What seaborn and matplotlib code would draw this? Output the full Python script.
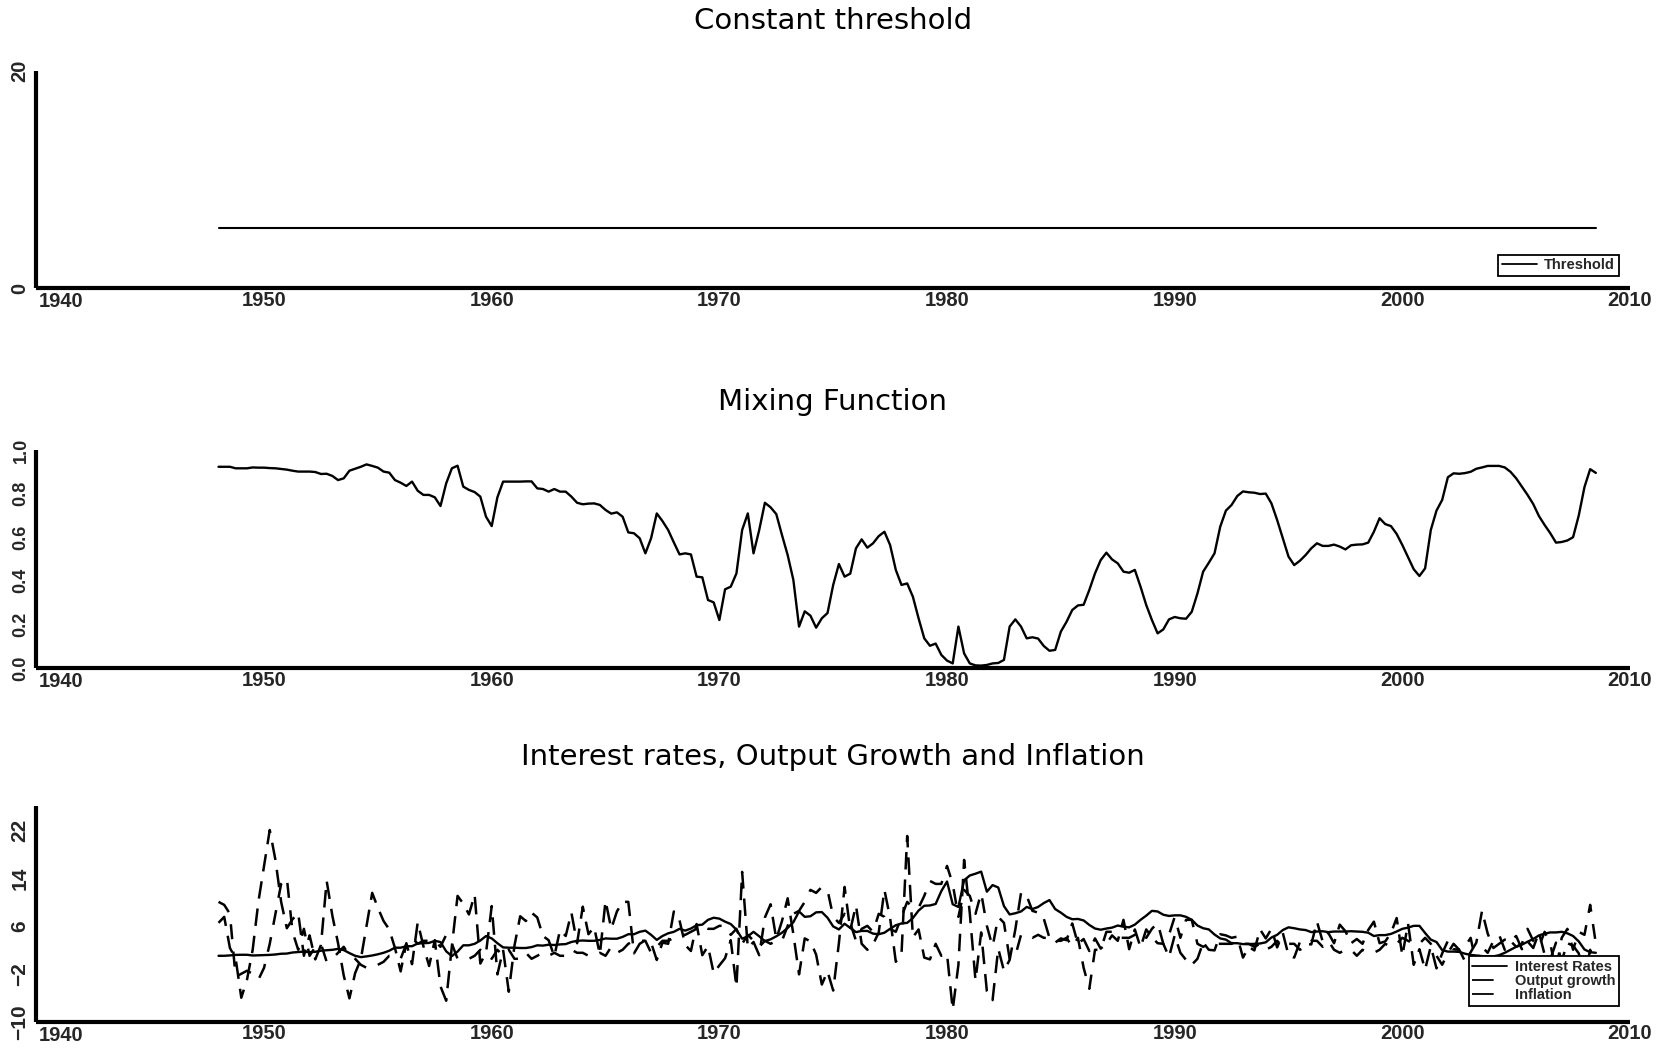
import numpy as np
import pandas as pd
import matplotlib
matplotlib.use("Agg")
import matplotlib.pyplot as plt
from matplotlib.lines import Line2D
from matplotlib.ticker import MultipleLocator, FixedLocator, FuncFormatter
import seaborn as sns

# ---------------------------------------------------------------------------
# Quarterly data, 1948Q1 - 2008Q3
# ---------------------------------------------------------------------------
start_year = 1948.0
threshold_level = 5.5

mixing = [
    0.923, 0.923, 0.923, 0.916,  # 1948
    0.916, 0.916, 0.920, 0.919,  # 1949
    0.919, 0.917, 0.916, 0.913,  # 1950
    0.910, 0.905, 0.901, 0.901,  # 1951
    0.901, 0.899, 0.890, 0.891,  # 1952
    0.881, 0.862, 0.870, 0.905,  # 1953
    0.914, 0.923, 0.934, 0.927,  # 1954
    0.919, 0.901, 0.896, 0.862,  # 1955
    0.850, 0.835, 0.855, 0.813,  # 1956
    0.794, 0.794, 0.783, 0.743,  # 1957
    0.847, 0.916, 0.928, 0.832,  # 1958
    0.817, 0.807, 0.786, 0.694,  # 1959
    0.651, 0.783, 0.855, 0.855,  # 1960
    0.855, 0.855, 0.856, 0.856,  # 1961
    0.824, 0.821, 0.809, 0.821,  # 1962
    0.809, 0.809, 0.786, 0.758,  # 1963
    0.751, 0.754, 0.755, 0.748,  # 1964
    0.725, 0.708, 0.714, 0.694,  # 1965
    0.622, 0.618, 0.595, 0.526,  # 1966
    0.595, 0.709, 0.674, 0.633,  # 1967
    0.576, 0.521, 0.526, 0.521,  # 1968
    0.419, 0.416, 0.312, 0.301,  # 1969
    0.220, 0.361, 0.373, 0.434,  # 1970
    0.633, 0.709, 0.526, 0.633,  # 1971
    0.758, 0.737, 0.706, 0.610,  # 1972
    0.518, 0.404, 0.190, 0.260,  # 1973
    0.240, 0.185, 0.228, 0.252,  # 1974
    0.381, 0.477, 0.419, 0.433,  # 1975
    0.549, 0.590, 0.552, 0.572,  # 1976
    0.605, 0.625, 0.564, 0.450,  # 1977
    0.381, 0.388, 0.327, 0.228,  # 1978
    0.136, 0.102, 0.112, 0.060,  # 1979
    0.034, 0.021, 0.190, 0.067,  # 1980
    0.021, 0.012, 0.011, 0.014,  # 1981
    0.021, 0.023, 0.037, 0.190,  # 1982
    0.223, 0.190, 0.136, 0.141,  # 1983
    0.135, 0.101, 0.079, 0.083,  # 1984
    0.167, 0.212, 0.266, 0.287,  # 1985
    0.290, 0.358, 0.434, 0.495,  # 1986
    0.529, 0.498, 0.480, 0.442,  # 1987
    0.437, 0.450, 0.373, 0.289,  # 1988
    0.220, 0.159, 0.177, 0.223,  # 1989
    0.234, 0.228, 0.226, 0.258,  # 1990
    0.342, 0.442, 0.483, 0.526,  # 1991
    0.648, 0.722, 0.748, 0.789,  # 1992
    0.810, 0.806, 0.804, 0.798,  # 1993
    0.800, 0.755, 0.679, 0.595,  # 1994
    0.511, 0.472, 0.492, 0.518,  # 1995
    0.549, 0.572, 0.560, 0.560,  # 1996
    0.566, 0.557, 0.544, 0.563,  # 1997
    0.566, 0.567, 0.575, 0.625,  # 1998
    0.687, 0.660, 0.651, 0.615,  # 1999
    0.564, 0.508, 0.453, 0.422,  # 2000
    0.457, 0.633, 0.722, 0.771,  # 2001
    0.875, 0.893, 0.891, 0.894,  # 2002
    0.900, 0.914, 0.920, 0.927,  # 2003
    0.927, 0.927, 0.920, 0.900,  # 2004
    0.870, 0.832, 0.794, 0.752,  # 2005
    0.697, 0.656, 0.618, 0.575,  # 2006
    0.578, 0.585, 0.600, 0.700,  # 2007
    0.830, 0.912, 0.895,         # 2008
]

interest_rates = [
    1.00, 1.00, 1.06, 1.15,  # 1948
    1.17, 1.17, 1.05, 1.08,  # 1949
    1.11, 1.15, 1.22, 1.34,  # 1950
    1.37, 1.55, 1.63, 1.70,  # 1951
    1.60, 1.67, 1.85, 1.93,  # 1952
    2.00, 2.15, 1.95, 1.45,  # 1953
    1.00, 0.78, 0.90, 1.05,  # 1954
    1.25, 1.50, 1.85, 2.35,  # 1955
    2.35, 2.60, 2.60, 3.05,  # 1956
    3.10, 3.15, 3.50, 3.30,  # 1957
    1.75, 0.95, 1.70, 2.75,  # 1958
    2.75, 3.00, 3.55, 4.30,  # 1959
    3.90, 3.10, 2.40, 2.35,  # 1960
    2.35, 2.30, 2.30, 2.45,  # 1961
    2.75, 2.70, 2.85, 2.80,  # 1962
    2.90, 2.95, 3.30, 3.50,  # 1963
    3.55, 3.50, 3.50, 3.65,  # 1964
    3.90, 3.85, 3.85, 4.15,  # 1965
    4.60, 4.60, 5.00, 5.20,  # 1966
    4.50, 3.65, 4.30, 4.75,  # 1967
    5.00, 5.50, 5.20, 5.55,  # 1968
    6.10, 6.20, 7.00, 7.35,  # 1969
    7.20, 6.70, 6.30, 5.35,  # 1970
    3.85, 4.25, 5.00, 4.25,  # 1971
    3.45, 3.75, 4.25, 4.85,  # 1972
    5.65, 6.60, 8.40, 7.50,  # 1973
    7.60, 8.25, 8.30, 7.35,  # 1974
    5.90, 5.40, 6.35, 5.65,  # 1975
    4.95, 5.15, 5.15, 4.70,  # 1976
    4.60, 4.85, 5.50, 6.10,  # 1977
    6.40, 6.50, 7.30, 8.55,  # 1978
    9.35, 9.40, 9.65, 11.80,  # 1979
    13.40, 9.60, 9.15, 13.60,  # 1980
    14.40, 14.70, 15.05, 11.70,  # 1981
    12.80, 12.40, 9.30, 7.90,  # 1982
    8.10, 8.40, 9.15, 8.80,  # 1983
    9.15, 9.80, 10.30, 8.80,  # 1984
    8.20, 7.50, 7.10, 7.15,  # 1985
    6.90, 6.15, 5.55, 5.35,  # 1986
    5.55, 5.70, 6.05, 5.85,  # 1987
    5.75, 6.20, 7.00, 7.70,  # 1988
    8.50, 8.40, 7.85, 7.65,  # 1989
    7.75, 7.75, 7.50, 7.00,  # 1990
    6.05, 5.60, 5.40, 4.55,  # 1991
    3.90, 3.70, 3.10, 3.10,  # 1992
    2.95, 2.95, 3.00, 3.05,  # 1993
    3.25, 4.05, 4.50, 5.30,  # 1994
    5.75, 5.60, 5.40, 5.30,  # 1995
    4.95, 5.05, 5.10, 4.95,  # 1996
    5.05, 5.05, 5.05, 5.10,  # 1997
    5.05, 5.00, 4.85, 4.30,  # 1998
    4.45, 4.45, 4.65, 5.05,  # 1999
    5.50, 5.70, 6.00, 6.00,  # 2000
    4.80, 3.70, 3.30, 1.95,  # 2001
    1.70, 1.70, 1.65, 1.35,  # 2002
    1.15, 1.05, 0.95, 0.90,  # 2003
    0.90, 1.10, 1.50, 2.00,  # 2004
    2.50, 2.85, 3.35, 3.80,  # 2005
    4.40, 4.70, 4.90, 4.90,  # 2006
    5.00, 4.75, 4.30, 3.40,  # 2007
    2.05, 1.60, 1.50,        # 2008
]

output_growth = [
    6.5, 7.5, 2.3, 0.6,    # 1948
    -6.0, -3.0, 2.0, 10.0,  # 1949
    16.0, 22.0, 17.0, 10.0,  # 1950
    5.6, 7.1, 8.1, 1.0,    # 1951
    4.4, 0.4, 2.8, 13.5,   # 1952
    7.7, 3.1, -2.3, -6.1,  # 1953
    -1.9, 0.4, 6.0, 11.5,  # 1954
    9.0, 6.8, 5.4, 2.3,    # 1955
    -1.6, 3.1, -0.4, 6.6,  # 1956
    2.6, -0.7, 3.6, -4.1,  # 1957
    -6.5, 2.6, 11.0, 9.7,  # 1958
    7.9, 11.2, -0.3, 1.5,  # 1959
    9.3, -2.1, 2.0, -5.0,  # 1960
    2.7, 7.6, 6.8, 8.2,    # 1961
    7.4, 4.3, 3.6, 0.9,    # 1962
    5.3, 4.3, 8.2, 3.1,    # 1963
    9.2, 4.6, 5.8, 1.2,    # 1964
    10.2, 5.5, 8.4, 10.0,  # 1965
    10.0, 1.4, 3.0, 3.6,   # 1966
    3.2, 0.3, 3.2, 3.0,    # 1967
    8.4, 6.9, 2.8, 1.8,    # 1968
    6.3, 1.1, 2.6, -1.9,   # 1969
    -0.6, 0.6, 3.6, -4.2,  # 1970
    15.0, 2.3, 3.3, 1.1,   # 1971
    7.4, 9.6, 3.8, 6.8,    # 1972
    10.6, 4.6, -2.1, 3.9,  # 1973
    3.4, 1.2, -3.8, -1.6,  # 1974
    -4.8, 3.1, 12.5, 5.3,  # 1975
    9.4, 3.0, 2.0, 2.9,    # 1976
    4.9, 12.0, 7.3, 0.0,   # 1977
    1.3, 21.0, 4.1, 5.4,   # 1978
    0.7, 0.4, 3.0, 1.0,    # 1979
    1.3, -8.0, -0.5, 17.0,  # 1980
    8.1, -3.1, 4.9, -4.9,  # 1981
    -6.4, 2.2, -1.5, 0.3,  # 1982
    5.4, 11.5, 11.0, 8.5,  # 1983
    8.2, 7.2, 4.0, 3.2,    # 1984
    3.9, 3.6, 6.4, 3.0,    # 1985
    3.8, 1.8, 3.9, 2.2,    # 1986
    3.0, 4.4, 3.5, 7.0,    # 1987
    2.1, 5.4, 2.4, 5.4,    # 1988
    4.1, 3.1, 3.0, 0.8,    # 1989
    4.4, 1.5, 0.3, -0.5,   # 1990
    0.5, 3.2, 2.0, 1.9,    # 1991
    4.6, 4.4, 4.0, 4.2,    # 1992
    0.7, 2.5, 1.9, 5.4,    # 1993
    3.9, 5.5, 2.4, 4.8,    # 1994
    1.1, 0.7, 3.3, 3.0,    # 1995
    2.9, 6.7, 3.4, 4.8,    # 1996
    3.1, 6.2, 5.1, 3.1,    # 1997
    3.8, 3.0, 5.3, 6.7,    # 1998
    3.1, 3.4, 4.8, 7.3,    # 1999
    1.0, 6.4, -0.5, 2.1,   # 2000
    -1.3, 2.6, -1.1, 1.4,  # 2001
    3.5, 2.1, 2.0, 0.1,    # 2002
    1.6, 3.2, 8.5, 4.7,    # 2003
    2.3, 3.0, 3.7, 3.5,    # 2004
    4.3, 2.1, 3.4, 2.3,    # 2005
    4.9, 1.2, 0.4, 3.2,    # 2006
    0.2, 3.1, 2.7, 1.4,    # 2007
    -2.7, 2.0, -1.9,       # 2008
]

inflation = [
    10.0, 9.5, 8.0, -2.5,  # 1948
    -2.0, -1.5, -2.0, -3.0,  # 1949
    -1.0, 3.0, 8.0, 13.0,  # 1950
    14.0, 5.0, 2.0, 5.5,   # 1951
    1.0, 2.5, 3.0, 0.0,    # 1952
    0.5, 1.5, 2.5, 1.0,    # 1953
    0.5, -0.5, -1.0, -1.0,  # 1954
    -0.5, 0.0, 1.0, 1.0,   # 1955
    0.5, 3.0, 4.0, 3.0,    # 1956
    3.5, 3.5, 3.5, 2.5,    # 1957
    4.5, 3.0, 0.5, 0.5,    # 1958
    0.5, 1.0, 2.0, 1.5,    # 1959
    0.5, 2.0, 1.0, 2.0,    # 1960
    0.5, 0.5, 1.5, 0.5,    # 1961
    1.0, 1.5, 1.0, 1.5,    # 1962
    1.0, 1.0, 2.0, 1.5,    # 1963
    1.5, 1.0, 1.0, 1.5,    # 1964
    1.0, 2.5, 1.5, 2.0,    # 1965
    3.0, 3.5, 3.5, 3.5,    # 1966
    1.5, 2.5, 3.5, 3.5,    # 1967
    4.0, 4.5, 4.5, 5.0,    # 1968
    5.5, 6.0, 5.5, 5.5,    # 1969
    6.0, 6.0, 4.5, 5.5,    # 1970
    3.0, 4.5, 3.5, 2.5,    # 1971
    3.5, 3.0, 3.5, 3.5,    # 1972
    6.0, 8.0, 8.5, 10.0,   # 1973
    12.0, 11.5, 12.5, 12.0,  # 1974
    7.5, 6.5, 8.0, 6.5,    # 1975
    3.5, 5.5, 6.0, 5.0,    # 1976
    8.0, 7.5, 5.5, 5.0,    # 1977
    7.5, 10.0, 9.0, 9.0,   # 1978
    11.0, 13.5, 13.0, 13.0,  # 1979
    16.0, 13.0, 7.5, 12.0,  # 1980
    11.0, 8.0, 11.5, 6.0,  # 1981
    2.5, 7.5, 6.5, 0.5,    # 1982
    1.0, 4.5, 4.5, 4.0,    # 1983
    4.5, 4.0, 4.0, 3.5,    # 1984
    3.5, 4.0, 2.5, 4.0,    # 1985
    -1.0, -4.5, 2.0, 2.0,  # 1986
    5.0, 5.0, 4.0, 4.0,    # 1987
    4.0, 4.5, 5.0, 4.0,    # 1988
    5.5, 6.5, 3.0, 4.5,    # 1989
    7.5, 4.0, 7.0, 7.0,    # 1990
    3.0, 2.5, 3.0, 3.0,    # 1991
    3.0, 3.0, 3.0, 3.5,    # 1992
    3.0, 3.0, 2.5, 3.0,    # 1993
    2.0, 2.5, 3.5, 2.5,    # 1994
    3.0, 3.0, 2.0, 2.5,    # 1995
    3.5, 3.5, 2.5, 3.5,    # 1996
    2.0, 1.5, 2.0, 2.0,    # 1997
    1.0, 2.0, 1.5, 1.5,    # 1998
    2.0, 3.0, 2.5, 3.0,    # 1999
    4.0, 3.5, 3.0, 3.0,    # 2000
    4.0, 3.0, 1.0, -0.5,   # 2001
    1.5, 3.0, 2.0, 2.5,    # 2002
    4.0, -0.5, 2.5, 1.5,   # 2003
    3.5, 4.5, 2.0, 3.5,    # 2004
    2.5, 3.0, 5.5, 3.5,    # 2005
    2.5, 5.0, 3.0, -1.5,   # 2006
    4.0, 5.5, 2.0, 5.0,    # 2007
    4.5, 9.5, 3.0,         # 2008
]

year_ticks = [1940, 1950, 1960, 1970, 1980, 1990, 2000, 2010]

dates = start_year + np.arange(len(mixing)) / 4.0
df = pd.DataFrame({
    "date": dates,
    "threshold": np.full(len(mixing), threshold_level),
    "mixing": mixing,
    "rate": interest_rates,
    "growth": output_growth,
    "inflation": inflation,
})

# ---------------------------------------------------------------------------
# Style
# ---------------------------------------------------------------------------
sns.set_style("white")
plt.rcParams["font.family"] = ["DejaVu Sans"]
TICK_FONT = "Liberation Sans"
X_LABEL_SIZE = 14.5

W, H = 1666, 1051
fig = plt.figure(figsize=(W / 100, H / 100), dpi=100)

x0, x1 = 36.4, 1630.0
panels = [  # (top px, bottom px)
    (70.7, 288.0),
    (450.0, 668.0),
    (806.0, 1021.7),
]
axes = []
for top, bot in panels:
    ax = fig.add_axes([x0 / W, 1 - bot / H, (x1 - x0) / W, (bot - top) / H])
    axes.append(ax)
ax1, ax2, ax3 = axes


def year_label(v, pos):
    # the leftmost year is written separately, clear of the y labels
    return "" if abs(v - year_ticks[0]) < 0.5 else str(int(round(v)))


for ax in axes:
    for s in ("top", "right"):
        ax.spines[s].set_visible(False)
    for s in ("left", "bottom"):
        ax.spines[s].set_linewidth(3.0)
        ax.spines[s].set_color("black")
        ax.spines[s].set_capstyle("butt")
    ax.set_xlim(year_ticks[0], year_ticks[-1])
    ax.xaxis.set_major_locator(FixedLocator(year_ticks))
    ax.xaxis.set_minor_locator(MultipleLocator(5))
    ax.xaxis.set_major_formatter(FuncFormatter(year_label))
    ax.tick_params(which="both", direction="in", color="black", width=1.4)
    ax.tick_params(which="major", length=5)
    ax.tick_params(which="minor", length=3)
    ax.tick_params(axis="x", pad=2)
    ax.tick_params(axis="y", pad=5)
    ax.set_facecolor("white")
    ax.annotate(str(year_ticks[0]), xy=(0, 0), xycoords="axes fraction",
                xytext=(2, -3), textcoords="offset points", ha="left",
                va="top", fontsize=X_LABEL_SIZE, fontweight="bold",
                family=TICK_FONT)

# ---------------------------------------------------------------------------
# Panel 1: constant threshold
# ---------------------------------------------------------------------------
sns.lineplot(data=df, x="date", y="threshold", ax=ax1, color="black",
             linewidth=1.5, legend=False)
ax1.set_ylim(0, 20)
ax1.yaxis.set_major_locator(FixedLocator([0, 20]))
ax1.yaxis.set_minor_locator(MultipleLocator(1))

# ---------------------------------------------------------------------------
# Panel 2: mixing function
# ---------------------------------------------------------------------------
sns.lineplot(data=df, x="date", y="mixing", ax=ax2, color="black",
             linewidth=1.7, legend=False)
ax2.set_ylim(0, 1)
ax2.yaxis.set_major_locator(MultipleLocator(0.2))
ax2.yaxis.set_minor_locator(MultipleLocator(0.1))
ax2.yaxis.set_major_formatter(matplotlib.ticker.FormatStrFormatter("%.1f"))

# ---------------------------------------------------------------------------
# Panel 3: interest rates, output growth and inflation
# ---------------------------------------------------------------------------
sns.lineplot(data=df, x="date", y="rate", ax=ax3, color="black",
             linewidth=1.7, legend=False)
sns.lineplot(data=df, x="date", y="growth", ax=ax3, color="black",
             linewidth=1.8, legend=False)
ax3.lines[-1].set_dashes((7, 4))
sns.lineplot(data=df, x="date", y="inflation", ax=ax3, color="black",
             linewidth=1.8, legend=False)
ax3.lines[-1].set_dashes((6, 5))
ax3.set_ylim(-10, 26)
ax3.yaxis.set_major_locator(FixedLocator([-10, -2, 6, 14, 22]))
ax3.yaxis.set_minor_locator(MultipleLocator(2))
ax3.yaxis.set_major_formatter(FuncFormatter(
    lambda v, p: "\u2212" + str(int(-v)) if v < 0 else str(int(v))))

# ---------------------------------------------------------------------------
# Labels, titles, legends
# ---------------------------------------------------------------------------
y_label_sizes = [14.5, 13, 15]
for ax, ysize in zip(axes, y_label_sizes):
    ax.set_xlabel("")
    ax.set_ylabel("")
    plt.setp(ax.get_xticklabels(), fontweight="bold", fontsize=X_LABEL_SIZE,
             family=TICK_FONT)
    plt.setp(ax.get_yticklabels(), fontweight="bold", fontsize=ysize,
             family=TICK_FONT, rotation=90, va="center", ha="right")

titles = [("Constant threshold", 21), ("Mixing Function", 402),
          ("Interest rates, Output Growth and Inflation", 757)]
for text, ypx in titles:
    fig.text(833 / W, 1 - ypx / H, text, ha="center", va="center",
             fontsize=21, color="black")

leg_kw = dict(loc="lower right", frameon=True, fancybox=False,
              edgecolor="black", framealpha=1, borderpad=0.25,
              handletextpad=0.5, borderaxespad=0, labelspacing=0.02,
              prop=dict(weight="bold", size=10.5, family=TICK_FONT))

h1 = [Line2D([], [], color="black", lw=1.3)]
lg1 = ax1.legend(h1, ["Threshold"], bbox_to_anchor=(0.993, 0.055),
                 handlelength=2.4, **leg_kw)
lg1.get_frame().set_linewidth(1.3)

h3 = [Line2D([], [], color="black", lw=1.3),
      Line2D([], [], color="black", lw=1.3, dashes=(12, 20)),
      Line2D([], [], color="black", lw=1.3, dashes=(12, 20))]
lg3 = ax3.legend(h3, ["Interest Rates", "Output growth", "Inflation"],
                 bbox_to_anchor=(0.993, 0.073), handlelength=2.4, **leg_kw)
lg3.get_frame().set_linewidth(1.3)

fig.savefig("out.png", dpi=100, facecolor="white")
